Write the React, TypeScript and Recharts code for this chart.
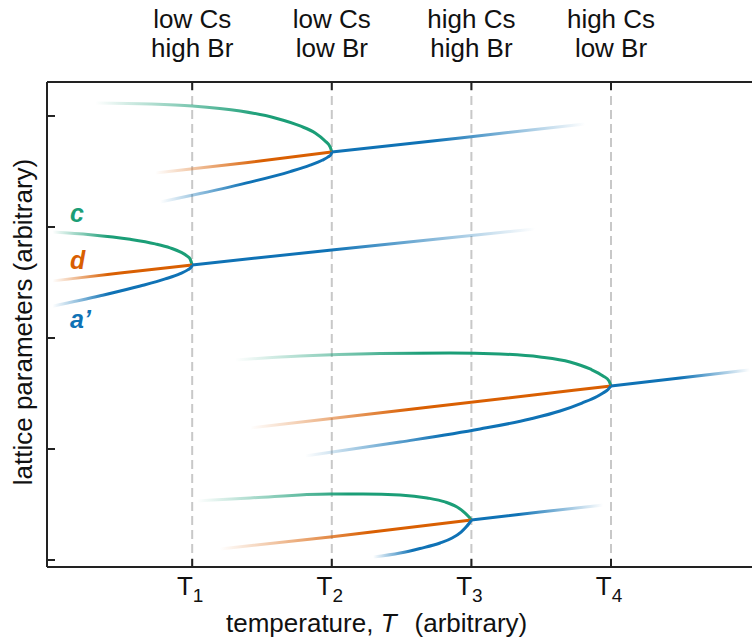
import React from 'react';
import { ComposedChart, Line, XAxis, YAxis, ReferenceLine } from 'recharts';

// ---- data (x in units where T1..T4 = 1..4, y arbitrary) ----
const T_TICKS = [1, 2, 3, 4];
const T_SUBS = ['1', '2', '3', '4'];
const TOP_LINE1 = ['low Cs', 'low Cs', 'high Cs', 'high Cs'];
const TOP_LINE2 = ['high Br', 'low Br', 'high Br', 'low Br'];
const Y_TICKS = [0, 1, 2, 3, 4];

// family merging at T2 (top)
const cA: [number, number][] = [[0.306, 4.117], [0.699, 4.108], [1.0, 4.09], [1.344, 4.045], [1.594, 3.982], [1.773, 3.91], [1.881, 3.847], [1.952, 3.775], [1.988, 3.721], [2.0, 3.676]];
const dA: [number, number][] = [[0.735, 3.486], [1.4, 3.58], [2.0, 3.676]];
const aA: [number, number][] = [[0.771, 3.225], [1.057, 3.301], [1.415, 3.404], [1.702, 3.499], [1.845, 3.557], [1.931, 3.601], [1.974, 3.631], [1.995, 3.654], [2.0, 3.676]];
const hA: [number, number][] = [[2.0, 3.676], [2.919, 3.802], [3.814, 3.928]];

// family merging at T1
const cB: [number, number][] = [[0.0, 2.955], [0.27, 2.931], [0.556, 2.889], [0.735, 2.848], [0.842, 2.812], [0.914, 2.776], [0.964, 2.737], [0.986, 2.709], [1.0, 2.658]];
const dB: [number, number][] = [[0.0, 2.514], [0.484, 2.586], [1.0, 2.658]];
const aB: [number, number][] = [[0.0, 2.286], [0.341, 2.38], [0.628, 2.468], [0.807, 2.532], [0.914, 2.58], [0.971, 2.616], [0.993, 2.638], [1.0, 2.658]];
const hB: [number, number][] = [[1.0, 2.658], [2.0, 2.793], [3.456, 2.982]];

// family merging at T4
const cC: [number, number][] = [[1.308, 1.802], [1.773, 1.838], [2.346, 1.86], [2.847, 1.865], [3.205, 1.856], [3.492, 1.829], [3.706, 1.784], [3.85, 1.721], [3.943, 1.658], [3.986, 1.613], [4.0, 1.568]];
const dC: [number, number][] = [[1.415, 1.189], [2.704, 1.378], [4.0, 1.568]];
const aC: [number, number][] = [[1.809, 0.937], [2.489, 1.063], [3.062, 1.18], [3.42, 1.27], [3.635, 1.342], [3.792, 1.414], [3.9, 1.473], [3.943, 1.505], [3.979, 1.536], [4.0, 1.568]];
const hC: [number, number][] = [[4.0, 1.568], [4.494, 1.64], [4.995, 1.712]];

// family merging at T3 (bottom)
const cD: [number, number][] = [[1.036, 0.532], [1.415, 0.559], [1.988, 0.595], [2.224, 0.595], [2.489, 0.586], [2.683, 0.559], [2.811, 0.523], [2.897, 0.477], [2.955, 0.423], [2.983, 0.387], [3.0, 0.36]];
const dD: [number, number][] = [[1.2, 0.099], [1.988, 0.207], [3.0, 0.36]];
const aD: [number, number][] = [[2.296, 0.027], [2.489, 0.063], [2.632, 0.104], [2.776, 0.153], [2.862, 0.198], [2.926, 0.252], [2.962, 0.297], [2.983, 0.329], [3.0, 0.36]];
const hD: [number, number][] = [[3.0, 0.36], [3.492, 0.432], [3.943, 0.495]];

// ---- styles ----
const GREEN = '#1b9e77';
const ORANGE = '#d95f02';
const BLUE = '#0f72b5';
const FONT = '"Liberation Sans", Arial, Helvetica, sans-serif';
const AXIS = '#222';

type Series = { id: string; pts: [number, number][]; color: string; dir: 'in' | 'out'; f: number };
const SERIES: Series[] = [
  { id: 'cA', pts: cA, color: GREEN, dir: 'in', f: 0.7 },
  { id: 'dA', pts: dA, color: ORANGE, dir: 'in', f: 0.6 },
  { id: 'aA', pts: aA, color: BLUE, dir: 'in', f: 0.5 },
  { id: 'hA', pts: hA, color: BLUE, dir: 'out', f: 0.4 },
  { id: 'cB', pts: cB, color: GREEN, dir: 'in', f: 0.4 },
  { id: 'dB', pts: dB, color: ORANGE, dir: 'in', f: 0.4 },
  { id: 'aB', pts: aB, color: BLUE, dir: 'in', f: 0.4 },
  { id: 'hB', pts: hB, color: BLUE, dir: 'out', f: 0.4 },
  { id: 'cC', pts: cC, color: GREEN, dir: 'in', f: 0.5 },
  { id: 'dC', pts: dC, color: ORANGE, dir: 'in', f: 0.45 },
  { id: 'aC', pts: aC, color: BLUE, dir: 'in', f: 0.45 },
  { id: 'hC', pts: hC, color: BLUE, dir: 'out', f: 0.5 },
  { id: 'cD', pts: cD, color: GREEN, dir: 'in', f: 0.55 },
  { id: 'dD', pts: dD, color: ORANGE, dir: 'in', f: 0.6 },
  { id: 'aD', pts: aD, color: BLUE, dir: 'in', f: 0.4 },
  { id: 'hD', pts: hD, color: BLUE, dir: 'out', f: 0.35 },
];

const LeftTick = (p: any) => (
  <line x1={p.x} x2={p.x + 8} y1={p.y} y2={p.y} stroke={AXIS} strokeWidth={2} />
);

const BottomTick = (p: any) => {
  const i = T_TICKS.indexOf(p.payload.value);
  return (
    <g>
      <line x1={p.x} x2={p.x} y1={p.y} y2={p.y - 8} stroke={AXIS} strokeWidth={2} />
      <text x={p.x - 2} y={p.y + 28} textAnchor="middle" fontFamily={FONT} fontSize={26} fill="#111">
        T<tspan dy={7} fontSize={19}>{T_SUBS[i]}</tspan>
      </text>
    </g>
  );
};

const TopTick = (p: any) => {
  const i = T_TICKS.indexOf(p.payload.value);
  return (
    <g>
      <line x1={p.x} x2={p.x} y1={p.y} y2={p.y + 8} stroke={AXIS} strokeWidth={2} />
      <text x={p.x} y={p.y - 54} textAnchor="middle" fontFamily={FONT} fontSize={26} fill="#111">{TOP_LINE1[i]}</text>
      <text x={p.x} y={p.y - 25} textAnchor="middle" fontFamily={FONT} fontSize={26} fill="#111">{TOP_LINE2[i]}</text>
    </g>
  );
};

export default function App() {
  return (
    <div style={{ position: 'absolute', left: 0, top: 0, width: 752, height: 643, background: '#fff' }}>
      <ComposedChart width={752} height={643} margin={{ top: 0, right: 0, bottom: 0, left: 0 }}>
        <defs>
          {SERIES.map((s) =>
            s.dir === 'in' ? (
              <linearGradient key={s.id} id={'g-' + s.id} x1="0" y1="0" x2="1" y2="0">
                <stop offset="0" stopColor={s.color} stopOpacity={0} />
                <stop offset={s.f} stopColor={s.color} stopOpacity={1} />
                <stop offset="1" stopColor={s.color} stopOpacity={1} />
              </linearGradient>
            ) : (
              <linearGradient key={s.id} id={'g-' + s.id} x1="0" y1="0" x2="1" y2="0">
                <stop offset="0" stopColor={s.color} stopOpacity={1} />
                <stop offset={s.f} stopColor={s.color} stopOpacity={1} />
                <stop offset="1" stopColor={s.color} stopOpacity={0} />
              </linearGradient>
            )
          )}
        </defs>
        <XAxis
          xAxisId="bottom"
          orientation="bottom"
          type="number"
          dataKey="x"
          domain={[-0.04, 5.01]}
          ticks={T_TICKS}
          height={76}
          tickSize={0}
          tickMargin={0}
          tickLine={false}
          axisLine={{ stroke: AXIS, strokeWidth: 2 }}
          tick={<BottomTick />}
          allowDataOverflow
        />
        <XAxis
          xAxisId="top"
          orientation="top"
          type="number"
          dataKey="x"
          domain={[-0.04, 5.01]}
          ticks={T_TICKS}
          height={82}
          tickSize={0}
          tickMargin={0}
          tickLine={false}
          axisLine={{ stroke: AXIS, strokeWidth: 2 }}
          tick={<TopTick />}
          allowDataOverflow
        />
        <YAxis
          yAxisId="left"
          type="number"
          domain={[-0.063, 4.306]}
          ticks={Y_TICKS}
          width={47}
          tickSize={0}
          tickMargin={0}
          tickLine={false}
          axisLine={{ stroke: AXIS, strokeWidth: 2 }}
          tick={<LeftTick />}
          allowDataOverflow
        />
        {T_TICKS.map((t) => (
          <ReferenceLine key={t} x={t} xAxisId="bottom" yAxisId="left" stroke="#c8c8c8" strokeWidth={2} strokeDasharray="9 5" />
        ))}
        {SERIES.map((s) => (
          <Line
            key={s.id}
            xAxisId="bottom"
            yAxisId="left"
            data={s.pts.map(([x, y]) => ({ x, y }))}
            dataKey="y"
            type="monotoneX"
            stroke={'url(#g-' + s.id + ')'}
            strokeWidth={3}
            dot={false}
            activeDot={false}
            isAnimationActive={false}
          />
        ))}
      </ComposedChart>
      <svg width={752} height={643} style={{ position: 'absolute', left: 0, top: 0, pointerEvents: 'none' }}>
        <text transform="translate(32,322) rotate(-90)" textAnchor="middle" fontFamily={FONT} fontSize={26} fill="#111">
          lattice parameters (arbitrary)
        </text>
        <text x={226} y={632} fontFamily={FONT} fontSize={26} fill="#111">
          temperature, <tspan fontStyle="italic">T</tspan>
          <tspan dx={18}>(arbitrary)</tspan>
        </text>
        <text x={70} y={222} fontFamily={FONT} fontSize={25} fontStyle="italic" fontWeight="bold" fill={GREEN}>c</text>
        <text x={70} y={269} fontFamily={FONT} fontSize={25} fontStyle="italic" fontWeight="bold" fill={ORANGE}>d</text>
        <text x={70} y={328} fontFamily={FONT} fontSize={25} fontStyle="italic" fontWeight="bold" fill={BLUE}>a’</text>
      </svg>
    </div>
  );
}
